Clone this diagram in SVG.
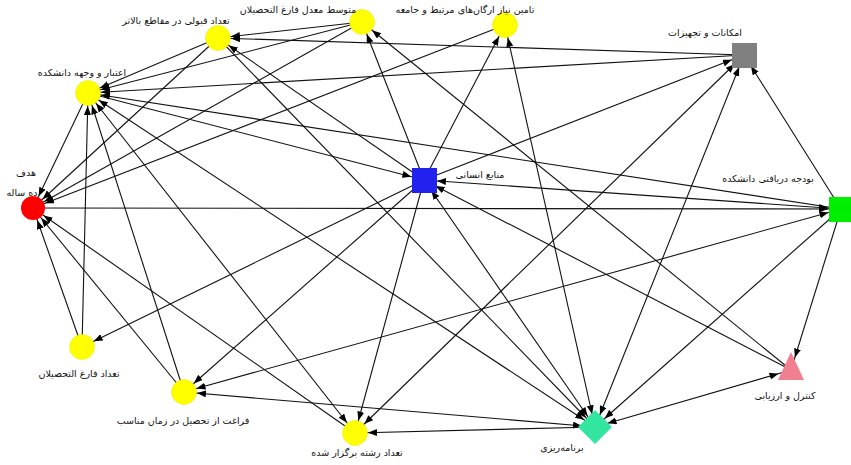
<svg xmlns="http://www.w3.org/2000/svg" width="851" height="465" viewBox="0 0 851 465">
<style>
.e{stroke:#111;stroke-width:1.1;fill:none;marker-end:url(#ah)}
.b{marker-start:url(#as)}
.t{font-family:"DejaVu Sans",sans-serif;font-size:9.5px;fill:#111;text-anchor:middle}
.y{fill:#ffff00;stroke:#e6e600;stroke-width:0.5}
</style>
<defs>
<marker id="ah" markerUnits="userSpaceOnUse" markerWidth="12" markerHeight="8" refX="22" refY="3.5" orient="auto"><path d="M0,0 L9,3.5 L0,7 z" fill="#000"/></marker>
<marker id="as" markerUnits="userSpaceOnUse" markerWidth="12" markerHeight="8" refX="22" refY="3.5" orient="auto-start-reverse"><path d="M0,0 L9,3.5 L0,7 z" fill="#000"/></marker>
</defs>
<rect width="851" height="465" fill="#fff"/>
<g id="connectors">
<line class="e" x1="88" y1="93" x2="33" y2="208"/>
<line class="e" x1="218" y1="38" x2="33" y2="208"/>
<line class="e" x1="362" y1="22" x2="33" y2="208"/>
<line class="e" x1="505" y1="25" x2="33" y2="208"/>
<line class="e" x1="82" y1="347" x2="33" y2="208"/>
<line class="e" x1="184" y1="392" x2="33" y2="208"/>
<line class="e" x1="355" y1="433" x2="33" y2="208"/>
<line class="e" x1="33" y1="208" x2="841" y2="209"/>
<line class="e" x1="218" y1="38" x2="88" y2="93"/>
<line class="e" x1="362" y1="22" x2="88" y2="93"/>
<line class="e" x1="744" y1="55" x2="88" y2="93"/>
<line class="e" x1="841" y1="209" x2="88" y2="93"/>
<line class="e" x1="82" y1="347" x2="88" y2="93"/>
<line class="e" x1="184" y1="392" x2="88" y2="93"/>
<line class="e b" x1="88" y1="93" x2="355" y2="433"/>
<line class="e b" x1="88" y1="93" x2="595" y2="427"/>
<line class="e" x1="88" y1="93" x2="424" y2="180"/>
<line class="e" x1="362" y1="22" x2="218" y2="38"/>
<line class="e" x1="744" y1="55" x2="218" y2="38"/>
<line class="e" x1="424" y1="180" x2="218" y2="38"/>
<line class="e" x1="218" y1="38" x2="595" y2="427"/>
<line class="e" x1="424" y1="180" x2="362" y2="22"/>
<line class="e" x1="791" y1="370" x2="362" y2="22"/>
<line class="e" x1="424" y1="180" x2="505" y2="25"/>
<line class="e b" x1="595" y1="427" x2="505" y2="25"/>
<line class="e" x1="424" y1="180" x2="744" y2="55"/>
<line class="e b" x1="355" y1="433" x2="744" y2="55"/>
<line class="e b" x1="595" y1="427" x2="744" y2="55"/>
<line class="e" x1="841" y1="209" x2="744" y2="55"/>
<line class="e b" x1="841" y1="209" x2="424" y2="180"/>
<line class="e" x1="791" y1="370" x2="424" y2="180"/>
<line class="e b" x1="595" y1="427" x2="424" y2="180"/>
<line class="e" x1="424" y1="180" x2="82" y2="347"/>
<line class="e" x1="424" y1="180" x2="184" y2="392"/>
<line class="e" x1="424" y1="180" x2="355" y2="433"/>
<line class="e b" x1="184" y1="392" x2="841" y2="209"/>
<line class="e b" x1="184" y1="392" x2="595" y2="427"/>
<line class="e" x1="595" y1="427" x2="355" y2="433"/>
<line class="e" x1="841" y1="209" x2="595" y2="427"/>
<line class="e" x1="841" y1="209" x2="791" y2="370"/>
<line class="e b" x1="595" y1="427" x2="791" y2="370"/>
</g>
<g id="node-hadaf"><circle cx="33" cy="208" r="12" fill="#ff0000"/><text class="t" x="26" y="176">هدف</text><text class="t" x="22" y="196">ده ساله</text></g>
<g id="node-etebar"><circle class="y" cx="88" cy="93" r="12.5"/><text class="t" x="82" y="76">اعتبار و وجهه دانشکده</text></g>
<g id="node-ghabooli"><circle class="y" cx="218" cy="38" r="12.5"/><text class="t" x="176" y="24">تعداد قبولی در مقاطع بالاتر</text></g>
<g id="node-moaddel"><circle class="y" cx="362" cy="22" r="12.5"/><text class="t" x="298" y="13">متوسط معدل فارغ التحصیلان</text></g>
<g id="node-tamin"><circle class="y" cx="505" cy="25" r="12.5"/><text class="t" x="465" y="13">تامین نیاز ارگان‌های مرتبط و جامعه</text></g>
<g id="node-emkanat"><rect x="732" y="43" width="25" height="25" fill="#808080"/><text class="t" x="705" y="36">امکانات و تجهیزات</text></g>
<g id="node-manabe"><rect x="412" y="168" width="25" height="25" fill="#2222ee"/><text class="t" x="480" y="178">منابع انسانی</text></g>
<g id="node-budje"><rect x="829" y="197" width="25" height="25" fill="#00ee00"/><text class="t" x="768" y="182">بودجه دریافتی دانشکده</text></g>
<g id="node-fareghtahsil"><circle class="y" cx="82" cy="347" r="12.5"/><text class="t" x="79" y="377">تعداد فارغ التحصیلان</text></g>
<g id="node-faraghat"><circle class="y" cx="184" cy="392" r="12.5"/><text class="t" x="183" y="424">فراغت از تحصیل در زمان مناسب</text></g>
<g id="node-reshte"><circle class="y" cx="355" cy="433" r="12.5"/><text class="t" x="357" y="456">تعداد رشته برگزار شده</text></g>
<g id="node-barname"><polygon points="595,410 612,427 595,444 578,427" fill="#33e6a0"/><text class="t" x="562" y="451">برنامه‌ریزی</text></g>
<g id="node-control"><polygon points="791,352 804,380 778,380" fill="#f08090"/><text class="t" x="785" y="399">کنترل و ارزیابی</text></g>
</svg>
